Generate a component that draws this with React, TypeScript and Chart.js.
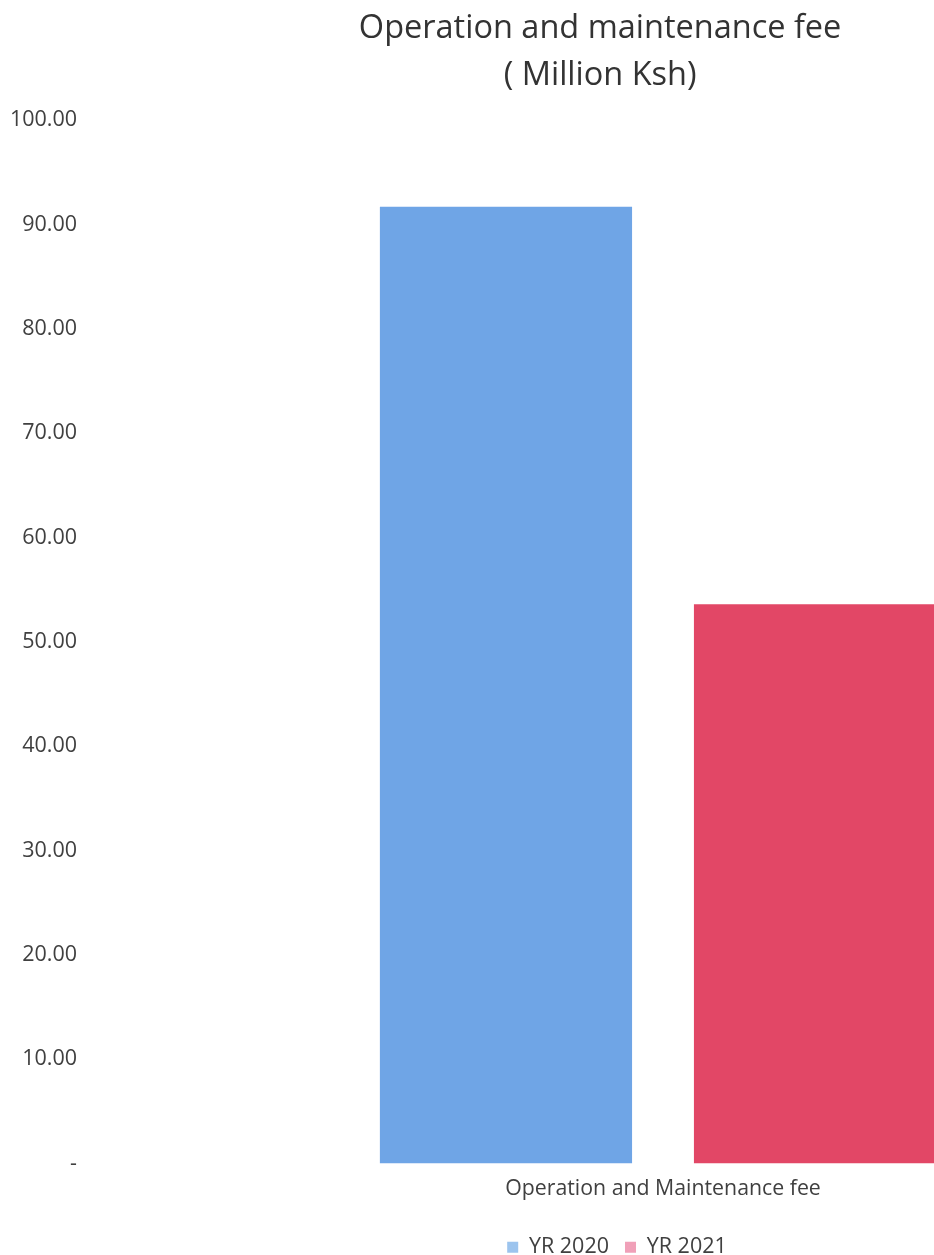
import React, { useEffect, useRef } from "react";
import { Chart, registerables } from "chart.js";

Chart.register(...registerables);

const categories = ["Operation and Maintenance fee"];
const seriesNames = ["YR 2020", "YR 2021"];
const yr2020 = [91.7];
const yr2021 = [53.6];
const titleLines = ["Operation and maintenance fee    ", "( Million Ksh)    "];
const yMin = 0;
const yMax = 100;
const yStep = 10;

const FONT = "'Open Sans', 'DejaVu Sans', sans-serif";

export default function App() {
  const ref = useRef<HTMLCanvasElement | null>(null);

  useEffect(() => {
    const prevMargin = document.body.style.margin;
    document.body.style.margin = "0";
    if (!ref.current) return;
    const chart = new Chart(ref.current, {
      type: "bar",
      data: {
        labels: categories,
        datasets: [
          {
            label: seriesNames[0],
            data: yr2020,
            backgroundColor: "#6FA5E6",
            borderWidth: 0,
          },
          {
            label: seriesNames[1],
            data: yr2021,
            backgroundColor: "#E24766",
            borderWidth: 0,
          },
        ],
      },
      options: {
        responsive: false,
        animation: false,
        layout: { padding: 0 },
        datasets: {
          bar: { categoryPercentage: 0.55, barPercentage: 0.803 },
        },
        plugins: {
          title: {
            display: true,
            text: titleLines,
            color: "#333333",
            font: { family: FONT, size: 32.5, weight: "normal", lineHeight: 1.45 },
            padding: { top: 5, bottom: 21 },
          },
          legend: {
            position: "bottom",
            labels: {
              color: "#404040",
              font: { family: FONT, size: 21.5 },
              boxWidth: 11,
              boxHeight: 11,
              padding: 16,
              generateLabels: (c: any) =>
                c.data.datasets.map((ds: any, i: number) => ({
                  text: ds.label,
                  fillStyle: i === 0 ? "#9CC4EE" : "#F0A0B8",
                  strokeStyle: "rgba(0,0,0,0)",
                  lineWidth: 0,
                  fontColor: "#404040",
                  datasetIndex: i,
                  hidden: false,
                })),
            },
          },
          tooltip: { enabled: false },
        },
        scales: {
          x: {
            grid: { display: false, drawTicks: false },
            border: { display: false },
            ticks: {
              color: "#404040",
              font: { family: FONT, size: 21.3 },
              padding: 13,
            },
            afterFit: (s: any) => {
              s.height = 57;
            },
          },
          y: {
            min: yMin,
            max: yMax,
            grid: { display: false, drawTicks: false },
            border: { display: false },
            ticks: {
              stepSize: yStep,
              color: "#404040",
              font: { family: FONT, size: 21.5 },
              padding: 15,
              callback: (v: any) => (Number(v) === 0 ? "-" : Number(v).toFixed(2)),
            },
            afterFit: (s: any) => {
              s.width = 92;
            },
          },
        },
      },
    });
    return () => {
      chart.destroy();
      document.body.style.margin = prevMargin;
    };
  }, []);

  return (
    <div style={{ width: 934, height: 1255, overflow: "hidden", background: "#ffffff" }}>
      <canvas ref={ref} width={1234} height={1268} style={{ display: "block" }} />
    </div>
  );
}
